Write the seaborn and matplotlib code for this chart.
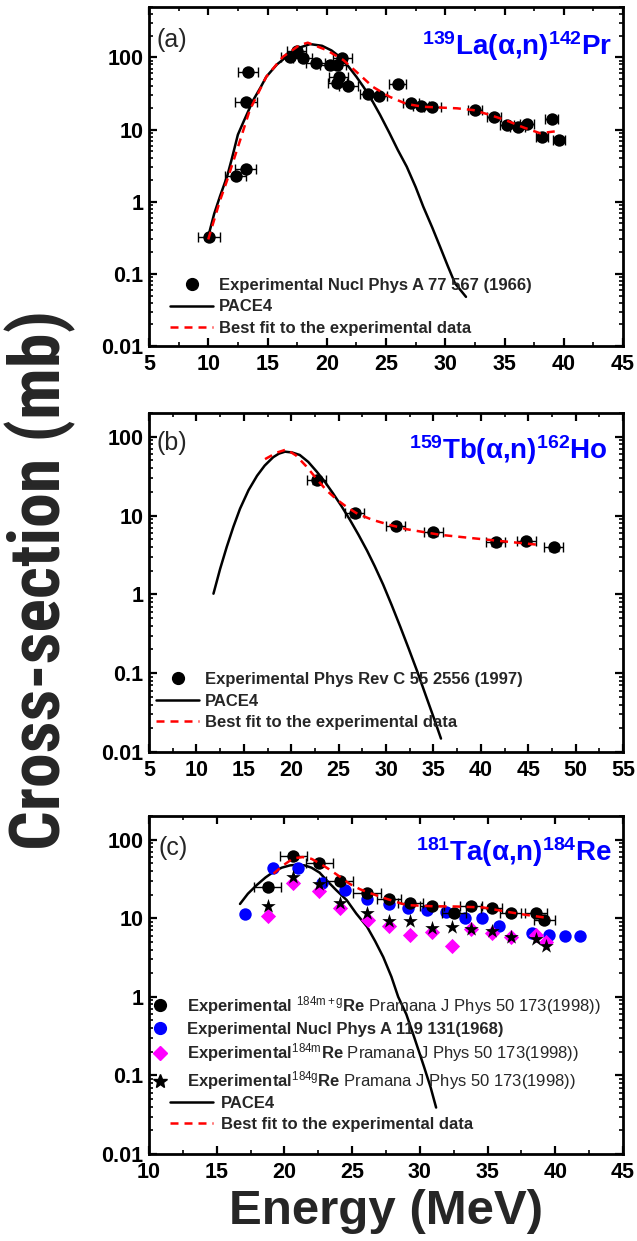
import matplotlib
matplotlib.use("Agg")
import matplotlib.pyplot as plt
import seaborn as sns
from matplotlib import font_manager as fm
from matplotlib.ticker import FixedLocator, FixedFormatter, LogLocator, MultipleLocator, NullFormatter
from matplotlib.lines import Line2D

# ---------------- (a) 139La(alpha,n)142Pr ----------------
la_E = [10.06, 12.3, 13.16, 13.18, 13.38, 16.9, 17.46, 17.97, 19.08, 20.27, 20.84,
        21.3, 21.03, 20.9, 21.8, 23.5, 24.4, 25.98, 27.1, 27.95, 28.9, 32.5, 34.1,
        35.2, 36.1, 36.9, 38.2, 39.0, 39.6]
la_sig = [0.32, 2.27, 2.81, 24.3, 63.4, 100, 124, 98, 82.8, 78, 78,
          97, 53, 43.7, 40.6, 31.1, 29.4, 42.7, 23.1, 21.4, 20.7, 18.7, 15.1,
          11.6, 11.0, 11.8, 7.8, 14.0, 7.2]
la_dE = [0.9, 0.9, 0.9, 0.9, 0.85, 0.8, 0.8, 0.8, 0.8, 0.8, 0.8,
         0.8, 0.8, 0.8, 0.8, 0.7, 0.7, 0.7, 0.7, 0.7, 0.7, 0.6, 0.6,
         0.6, 0.6, 0.6, 0.5, 0.55, 0.5]
la_pace_E = [10.0, 10.5, 11.0, 11.6, 12.0, 12.5, 13.0, 13.8, 14.4, 14.9, 15.8, 16.6,
             17.6, 18.6, 19.6, 20.4, 21.1, 21.8, 22.5, 23.1, 23.65, 24.5, 25.3, 26.0,
             26.75, 27.5, 28.15, 28.9, 29.56, 30.2, 30.82, 31.75]
la_pace_sig = [0.33, 0.68, 1.2, 2.27, 4.0, 8.5, 13.1, 25.7, 38, 54, 80, 102,
               135, 153, 145, 125, 102, 76, 54, 39, 28.5, 16, 8.9, 5.2,
               3.06, 1.6, 0.85, 0.44, 0.238, 0.13, 0.074, 0.048]
la_fit_E = [10.0, 11.0, 11.6, 12.7, 13.5, 14.9, 16.3, 17.7, 18.4, 20.0, 21.4, 22.8,
            23.9, 25.3, 26.75, 28.15, 31.0, 32.4, 33.8, 35.2, 36.6, 38.0, 39.4]
la_fit_sig = [0.3, 1.05, 2.0, 7.2, 18.6, 54, 102, 148, 160, 126, 92, 57,
              39, 28.5, 22.6, 20.7, 19.7, 18.6, 15.9, 13.3, 10.7, 8.9, 9.5]

# ---------------- (b) 159Tb(alpha,n)162Ho ----------------
tb_E = [22.7, 26.7, 31.05, 35.0, 41.6, 44.8, 47.7]
tb_sig = [28.0, 10.7, 7.4, 6.1, 4.6, 4.77, 3.96]
tb_dE = [1.0, 1.0, 1.0, 1.0, 1.0, 1.0, 1.0]
tb_pace_E = [11.8, 12.5, 13.2, 13.9, 14.6, 15.5, 16.4, 17.2, 18.1, 18.7, 19.35, 20.1,
             20.9, 21.8, 22.7, 23.6, 24.4, 25.3, 26.2, 27.1, 28.0, 28.8, 29.7, 30.6,
             31.5, 32.4, 33.3, 34.2, 35.0, 35.8]
tb_pace_sig = [1.02, 2.1, 4.0, 7.2, 12.2, 21, 32, 43, 55, 61, 64.6, 63.1,
               58.7, 47.9, 36, 26.3, 19.2, 13.2, 8.8, 5.7, 3.59, 2.29, 1.33, 0.73,
               0.39, 0.204, 0.105, 0.052, 0.028, 0.0148]
tb_fit_E = [17.24, 18.5, 19.5, 20.5, 21.6, 22.6, 23.7, 24.8, 25.8, 27.0, 28.6, 30.4,
            32.2, 35.7, 39.2, 42.7, 46.2]
tb_fit_sig = [52, 63, 69, 58, 42, 30, 21, 16, 13, 10.5, 8.8, 7.6,
              6.7, 5.7, 5.15, 4.67, 4.24]

# ---------------- (c) 181Ta(alpha,n)184Re ----------------
ta_mg_E = [18.77, 20.65, 22.58, 24.1, 26.1, 27.7, 29.3, 30.9, 32.5, 33.8, 35.3, 36.7, 38.6, 39.2]
ta_mg_sig = [25.2, 61.8, 50.8, 29.7, 21.1, 17.7, 15.5, 14.3, 11.7, 14.3, 13.6, 11.5, 11.5, 9.5]
ta_mg_dE = [1.0, 1.0, 1.0, 1.0, 1.0, 0.9, 0.9, 0.9, 0.9, 0.8, 0.8, 0.8, 0.8, 0.8]
ta_nuc_E = [17.09, 19.18, 20.98, 22.8, 24.5, 26.1, 27.7, 29.1, 30.5, 31.9, 33.3, 34.6,
            35.85, 38.3, 39.5, 40.7, 41.8]
ta_nuc_sig = [11.2, 44, 44, 28.3, 22.9, 17.4, 15, 13.4, 12.7, 12.1, 10.1, 10,
              8.0, 6.5, 6.2, 6.0, 5.9]
ta_m_E = [18.8, 20.65, 22.58, 24.1, 26.2, 27.7, 29.3, 30.9, 32.4, 33.8, 35.3, 36.7, 38.6, 39.3]
ta_m_sig = [10.8, 28.3, 22.4, 13.6, 9.5, 8.0, 6.2, 6.7, 4.4, 7.2, 6.4, 5.8, 6.2, 5.0]
ta_g_E = [18.77, 20.65, 22.58, 24.1, 26.1, 27.7, 29.3, 30.9, 32.4, 33.8, 35.3, 36.7, 38.6, 39.3]
ta_g_sig = [14.3, 33.1, 27, 15.7, 11.5, 9.2, 9.2, 7.6, 7.8, 7.2, 6.9, 5.8, 5.4, 4.4]
ta_pace_E = [16.72, 17.3, 17.95, 18.6, 19.2, 19.8, 20.4, 20.9, 21.5, 22.0, 22.6, 23.1,
             23.8, 24.6, 25.3, 26.1, 26.7, 27.3, 27.9, 28.4, 29.0, 29.6, 30.3, 30.8, 31.2]
ta_pace_sig = [15.2, 20.5, 26.4, 33, 39, 44, 47, 48, 47, 44, 38, 30.6,
               23, 17, 11.5, 7.8, 5.1, 3.2, 1.8, 1.0, 0.6, 0.3, 0.13, 0.07, 0.039]
ta_fit_E = [19.2, 19.9, 20.65, 21.35, 22.0, 22.6, 23.3, 24.1, 24.8, 25.6, 27.05, 29.0,
            31.0, 32.7, 34.7, 36.4, 37.9, 39.6]
ta_fit_sig = [37, 47, 57.8, 60, 57, 50, 42, 33.7, 27.5, 23.3, 18.8, 14.7,
              14.2, 14.1, 13.7, 12.1, 11.0, 10.0]

Y_TICKS = [0.01, 0.1, 1, 10, 100]
Y_TICK_LABELS = ["0.01", "0.1", "1", "10", "100"]

W, H = 637, 1241
BLUE, MAGENTA, RED = "#0000FF", "#FF00FF", "#FF0000"
DASH = (0, (3.2, 2.4))

sns.set_theme(style="ticks")
plt.rcParams.update({
    "font.family": ["Liberation Sans", "DejaVu Sans"],
    "mathtext.fontset": "custom",
    "mathtext.rm": "Liberation Sans",
    "mathtext.bf": "Liberation Sans:bold",
    "mathtext.it": "Liberation Sans:italic",
    "axes.linewidth": 2.0,
    "axes.edgecolor": "black",
})


def condensed_font():
    """Return (family, stretch) of an installed narrow bold face, if any."""
    candidates = [("Liberation Sans Narrow", "normal"), ("Roboto Condensed", "normal"),
                  ("Noto Sans", "condensed"), ("Open Sans", "condensed"),
                  ("DejaVu Sans", "condensed"), ("Roboto", "condensed")]
    for fam, stretch in candidates:
        try:
            path = fm.findfont(fm.FontProperties(family=fam, weight="bold", stretch=stretch),
                               fallback_to_default=False)
        except Exception:
            continue
        low = path.lower()
        if "narrow" in low or "condensed" in low or "cond" in low:
            return fam, stretch
    return "Liberation Sans", "normal"


fig = plt.figure(figsize=(W / 100, H / 100), dpi=100)


def add_panel(top, bottom):
    return fig.add_axes([149 / W, 1 - bottom / H, 474 / W, (bottom - top) / H])


def px_to_ax(ax_top, ax_bottom, x, y):
    return (x - 149) / 474, (ax_bottom - y) / (ax_bottom - ax_top)


def style_axes(ax, xlim, xmajor, ylim):
    ax.set_yscale("log")
    ax.set_xlim(*xlim)
    ax.set_ylim(*ylim)
    ax.xaxis.set_major_locator(MultipleLocator(xmajor))
    ax.xaxis.set_minor_locator(MultipleLocator(xmajor / 2))
    ax.yaxis.set_major_locator(FixedLocator(Y_TICKS))
    ax.yaxis.set_major_formatter(FixedFormatter(Y_TICK_LABELS))
    ax.yaxis.set_minor_locator(LogLocator(base=10, subs=range(2, 10), numticks=20))
    ax.yaxis.set_minor_formatter(NullFormatter())
    ax.tick_params(which="both", direction="in", top=True, right=True, colors="black")
    ax.tick_params(which="major", length=6, width=1.6, labelsize=15.5, pad=4)
    ax.tick_params(which="minor", length=3, width=1.2)
    ax.tick_params(axis="x", which="major", pad=6)
    for lab in ax.get_xticklabels() + ax.get_yticklabels():
        lab.set_fontweight("bold")
    ax.set_xlabel("")
    ax.set_ylabel("")
    for s in ax.spines.values():
        s.set_linewidth(2.0)
        s.set_visible(True)


def draw_exp(ax, E, sig, dE, rel):
    ax.errorbar(E, sig, xerr=dE, yerr=[s * rel for s in sig], fmt="none",
                ecolor="black", elinewidth=1.0, capsize=3.5, capthick=1.0, zorder=3)
    sns.scatterplot(x=E, y=sig, ax=ax, color="black", marker="o", s=80,
                    linewidth=0, zorder=4, legend=False)


def draw_pace(ax, E, sig):
    sns.lineplot(x=E, y=sig, ax=ax, color="black", linewidth=1.8,
                 sort=False, estimator=None, legend=False, zorder=2)


def draw_fit(ax, E, sig):
    sns.lineplot(x=E, y=sig, ax=ax, color=RED, linewidth=1.8, linestyle=DASH,
                 sort=False, estimator=None, legend=False, zorder=5)


def panel_text(ax, top, bottom, letter, lx, ly, title, tx, ty):
    ax.text(*px_to_ax(top, bottom, lx, ly), letter, transform=ax.transAxes,
            ha="left", va="center", fontsize=18)
    ax.text(*px_to_ax(top, bottom, tx, ty), title, transform=ax.transAxes,
            ha="right", va="center", color=BLUE, fontsize=20, fontweight="bold")


h_exp = Line2D([], [], color="black", marker="o", linestyle="none", markersize=8.5)
h_pace = Line2D([], [], color="black", linewidth=1.8)
h_fit = Line2D([], [], color=RED, linewidth=1.8, linestyle=DASH)
line_leg_kw = dict(loc="center left", frameon=False, borderpad=0, borderaxespad=0,
                   handlelength=2.6, handletextpad=0.35, labelspacing=0.4,
                   prop={"weight": "bold", "size": 12})

# ---- panel (a)
A_TOP, A_BOT = 7, 346
axa = add_panel(A_TOP, A_BOT)
draw_pace(axa, la_pace_E, la_pace_sig)
draw_fit(axa, la_fit_E, la_fit_sig)
draw_exp(axa, la_E, la_sig, la_dE, 0.08)
style_axes(axa, (5, 45), 5, (0.01, 500))
panel_text(axa, A_TOP, A_BOT, "(a)", 157, 40,
           r"$^{\mathbf{139}}$La(α,n)$^{\mathbf{142}}$Pr", 612, 46)
axa.legend([h_exp, h_pace, h_fit],
           ["Experimental Nucl Phys A 77 567 (1966)", "PACE4", "Best fit to the experimental data"],
           bbox_to_anchor=px_to_ax(A_TOP, A_BOT, 170, 307), **line_leg_kw)

# ---- panel (b)
B_TOP, B_BOT = 413, 752
axb = add_panel(B_TOP, B_BOT)
draw_pace(axb, tb_pace_E, tb_pace_sig)
draw_fit(axb, tb_fit_E, tb_fit_sig)
draw_exp(axb, tb_E, tb_sig, tb_dE, 0.1)
style_axes(axb, (5, 55), 5, (0.01, 200))
panel_text(axb, B_TOP, B_BOT, "(b)", 157, 443,
           r"$^{\mathbf{159}}$Tb(α,n)$^{\mathbf{162}}$Ho", 608, 450)
axb.legend([h_exp, h_pace, h_fit],
           ["Experimental Phys Rev C 55 2556 (1997)", "PACE4", "Best fit to the experimental data"],
           bbox_to_anchor=px_to_ax(B_TOP, B_BOT, 156, 701), **line_leg_kw)

# ---- panel (c)
C_TOP, C_BOT = 816, 1154
axc = add_panel(C_TOP, C_BOT)
draw_pace(axc, ta_pace_E, ta_pace_sig)
sns.scatterplot(x=ta_nuc_E, y=ta_nuc_sig, ax=axc, color=BLUE, marker="o", s=80,
                linewidth=0, zorder=3, legend=False)
sns.scatterplot(x=ta_m_E, y=ta_m_sig, ax=axc, color=MAGENTA, marker="D", s=60,
                linewidth=0, zorder=3, legend=False)
sns.scatterplot(x=ta_g_E, y=ta_g_sig, ax=axc, color="black", marker="*", s=120,
                linewidth=0, zorder=4, legend=False)
draw_exp(axc, ta_mg_E, ta_mg_sig, ta_mg_dE, 0.08)
draw_fit(axc, ta_fit_E, ta_fit_sig)
style_axes(axc, (10, 45), 5, (0.01, 200))
panel_text(axc, C_TOP, C_BOT, "(c)", 159, 848,
           r"$^{\mathbf{181}}$Ta(α,n)$^{\mathbf{184}}$Re", 612, 852)

marker_handles = [
    Line2D([], [], color="black", marker="o", linestyle="none", markersize=8.5),
    Line2D([], [], color=BLUE, marker="o", linestyle="none", markersize=8.5),
    Line2D([], [], color=MAGENTA, marker="D", linestyle="none", markersize=7.5),
    Line2D([], [], color="black", marker="*", linestyle="none", markersize=10),
]
marker_labels = [
    r"$\mathbf{Experimental}$ $^{\mathrm{184m+g}}\mathbf{Re}$ Pramana J Phys 50 173(1998))",
    "Experimental Nucl Phys A 119 131(1968)",
    r"$\mathbf{Experimental}^{\mathrm{184m}}\mathbf{Re}$ Pramana J Phys 50 173(1998))",
    r"$\mathbf{Experimental}^{\mathrm{184g}}\mathbf{Re}$ Pramana J Phys 50 173(1998))",
]
leg1 = axc.legend(marker_handles, marker_labels, loc="center left",
                  bbox_to_anchor=px_to_ax(C_TOP, C_BOT, 152, 1043),
                  frameon=False, borderpad=0, borderaxespad=0, handlelength=1.0,
                  handletextpad=1.1, labelspacing=0.3, prop={"size": 12})
leg1.get_texts()[1].set_fontweight("bold")
axc.add_artist(leg1)
axc.legend([h_pace, h_fit], ["PACE4", "Best fit to the experimental data"],
           bbox_to_anchor=px_to_ax(C_TOP, C_BOT, 170, 1114),
           **dict(line_leg_kw, handletextpad=0.45, labelspacing=0.35))

# shared axis titles
yfam, ystretch = condensed_font()
ylab = fig.text(40 / W, 1 - 580 / H, "Cross-section (mb)", rotation=90, ha="center",
                va="center", fontsize=44, fontweight="bold", family=yfam, fontstretch=ystretch)
xlab = fig.text(386 / W, 1 - 1212 / H, "Energy (MeV)", ha="center", va="center",
                fontsize=35.5, fontweight="bold")

# fit the long vertical title to its span along the panels
fig.canvas.draw()
renderer = fig.canvas.get_renderer()
span = ylab.get_window_extent(renderer).height
ylab.set_fontsize(ylab.get_fontsize() * 540 / span)

fig.savefig("out.png", dpi=100)
